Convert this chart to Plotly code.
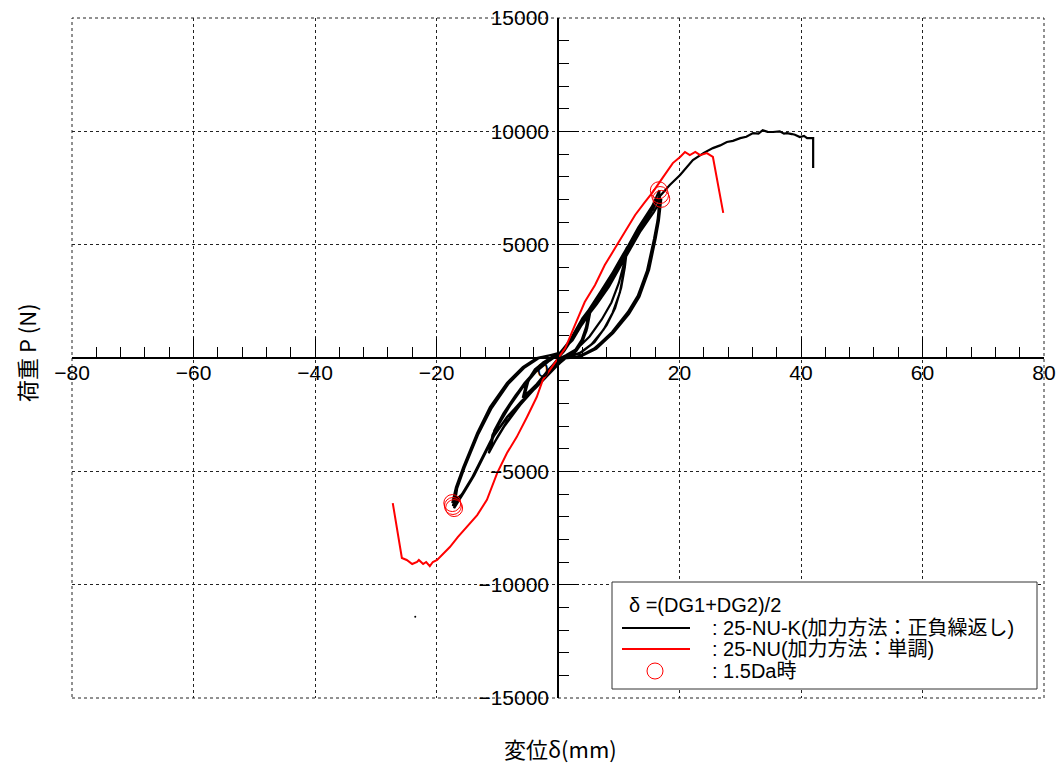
import plotly.graph_objects as go

# ---------------- data ----------------
# 25-NU-K cyclic test: small, mid and large amplitude cycles, then final push
small_a_x = [0, 1.0, 2.5, 4.0, 5.3, 4.8, 4.0, 3.0, 1.5, 0.0, -1.5, -3.5, -5.8, -5.2, -4.0, -2.5, -1.0, 0.3]
small_a_y = [0, 300, 900, 1500, 2000, 1300, 700, 300, 60, -60, -500, -1150, -1750, -1100, -600, -200, 50, 200]
small_b_x = [0.3, 2.0, 3.5, 5.2, 4.7, 3.8, 2.8, 1.3, -0.2, -1.8, -3.8, -5.7, -5.0, -3.8, -2.2, -0.8, 0.4]
small_b_y = [200, 750, 1300, 1950, 1200, 600, 250, 40, -120, -600, -1250, -1700, -1000, -500, -150, 60, 210]
small_c_x = [0.4, 1.8, 3.3, 5.0, 4.6, 3.9, 2.9, 1.6, 0.1, -1.6, -3.6, -5.5, -4.9, -3.9, -2.4, -0.9, 0.4]
small_c_y = [210, 700, 1250, 1900, 1350, 800, 380, 120, -80, -550, -1200, -1650, -1050, -560, -180, 40, 200]

mid_a_x = [0.4, 2.0, 4.0, 6.0, 8.0, 10.0, 11.4, 11.0, 10.4, 9.4, 8.0, 6.0, 4.0, 2.0, 0.4, -1.3, -3.5, -5.8,
           -8.4, -10.0, -11.3, -10.8, -9.5, -7.5, -5.5, -3.5, -1.5, 0.3]
mid_a_y = [210, 800, 1650, 2450, 3300, 4200, 4900, 4000, 3100, 2200, 1450, 700, 280, 60, -60, -550, -1250, -1900,
           -2800, -3500, -4150, -3400, -2700, -1850, -1100, -500, -80, 180]
mid_b_x = [0.3, 2.2, 4.2, 6.2, 8.2, 10.0, 11.2, 10.8, 10.2, 9.0, 7.5, 5.5, 3.5, 1.5, 0.0, -1.5, -3.8, -6.0,
           -8.6, -10.2, -11.1, -10.5, -9.0, -7.0, -5.0, -3.0, -1.2, 0.3]
mid_b_y = [180, 850, 1750, 2550, 3400, 4250, 4800, 3800, 2900, 2000, 1250, 600, 200, 20, -100, -600, -1350, -2000,
           -2900, -3600, -4050, -3200, -2450, -1650, -950, -400, -20, 200]
mid_c_x = [0.3, 2.4, 4.4, 6.4, 8.4, 10.2, 11.3, 10.9, 10.0, 8.8, 7.2, 5.2, 3.2, 1.3, -0.1, -1.7, -4.0, -6.3,
           -8.8, -10.4, -11.4, -10.9, -9.8, -7.9, -5.8, -3.6, -1.4, 0.3]
mid_c_y = [200, 900, 1850, 2650, 3500, 4300, 4850, 4200, 3300, 2450, 1700, 950, 420, 120, -60, -580, -1400, -2100,
           -3000, -3700, -4200, -3650, -2950, -2100, -1300, -600, -120, 190]

large_a_x = [0.3, 2.0, 4.0, 6.0, 8.0, 10.0, 11.4, 13.2, 15.5, 16.7, 16.5, 16.0, 14.8, 13.2, 11.5, 8.9, 6.1, 3.3,
             1.2, 0.3, -1.3, -3.5, -5.8, -8.4, -10.7, -12.3, -14.0, -15.6, -17.4, -16.8, -15.6, -13.3, -11.2,
             -8.4, -5.8, -3.5, -1.3, 0.3]
large_a_y = [220, 800, 1750, 2450, 3250, 4200, 4850, 5750, 6700, 7400, 6300, 5430, 3970, 2780, 2030, 1150, 440, 50,
             0, -220, -660, -1280, -1850, -2600, -3490, -4370, -5250, -5960, -6400, -5700, -4810, -3310, -2160,
             -1100, -400, 0, 130, 220]
large_b_x = [0.3, 2.2, 4.2, 6.2, 8.2, 10.2, 11.6, 13.4, 15.6, 16.8, 16.4, 15.8, 14.6, 13.0, 11.2, 8.6, 5.8, 3.0,
             1.0, 0.2, -1.5, -3.7, -6.0, -8.6, -10.9, -12.5, -14.2, -15.8, -17.3, -16.7, -15.5, -13.2, -11.0,
             -8.2, -5.6, -3.3, -1.1, 0.3]
large_b_y = [200, 820, 1720, 2420, 3200, 4150, 4800, 5650, 6550, 7190, 6100, 5250, 3800, 2650, 1900, 1050, 380, 30,
             -20, -240, -700, -1330, -1900, -2680, -3560, -4420, -5300, -6000, -6530, -5800, -4900, -3400, -2250,
             -1150, -430, -20, 120, 210]
large_c_x = [0.3, 2.4, 4.4, 6.4, 8.4, 10.4, 11.8, 13.6, 15.8, 17.0, 16.6, 16.1, 15.0, 13.4, 11.7, 9.1, 6.3, 3.5,
             1.3, 0.4, -1.2, -3.4, -5.6, -8.2, -10.5, -12.1, -13.8, -15.4, -17.1, -16.6, -15.4, -13.1, -10.9,
             -8.1, -5.5, -3.2, -1.0, 0.3]
large_c_y = [230, 780, 1680, 2380, 3150, 4100, 4750, 5600, 6450, 7020, 6050, 5300, 3900, 2700, 1950, 1100, 400, 40,
             -10, -210, -620, -1230, -1800, -2550, -3420, -4300, -5180, -5900, -6620, -5750, -4850, -3350, -2200,
             -1120, -420, -10, 140, 230]
final_x = [0.3, 2.0, 4.0, 6.0, 8.0, 10.0, 11.4, 13.2, 15.5, 16.8, 18.4, 20.1, 22.2, 24.0, 25.5, 26.7, 27.8, 28.8,
           30.0, 31.0, 32.1, 33.0, 33.7, 34.5, 35.4, 36.5, 37.2, 37.7, 38.5, 39.0, 39.8, 40.5, 41.0, 42.0, 42.0]
final_y = [220, 790, 1700, 2430, 3230, 4180, 4830, 5720, 6640, 7150, 7630, 8070, 8730, 9050, 9260, 9380, 9530, 9580,
           9700, 9760, 9920, 9900, 10050, 9980, 9970, 10000, 9900, 9920, 9880, 9850, 9750, 9800, 9700, 9700, 8380]
stray_x = [-23.5]
stray_y = [-11420]

# 25-NU monotonic test (negative branch then positive branch)
red_x = [-27.2, -25.7, -24.9, -24.0, -23.2, -22.9, -22.2, -21.7, -21.1, -20.6, -19.9, -19.1, -17.8, -16.5, -15.0,
         -13.3, -11.7, -10.0, -8.4, -6.8, -5.1, -3.5, -2.5, -1.3, 0.0, 1.2, 2.8, 4.4, 6.1, 7.7, 9.4, 11.0, 12.7,
         14.3, 15.6, 17.3, 18.9, 20.1, 20.9, 21.7, 22.6, 23.4, 24.5, 25.5, 27.2]
red_y = [-6400, -8820, -8910, -9090, -9000, -8910, -9090, -9000, -9180, -9000, -8910, -8690, -8340, -7900, -7450,
         -6930, -6260, -5070, -4190, -3490, -2600, -1720, -970, -530, 0, 440, 1460, 2470, 3220, 4100, 4850, 5560, 6310,
         6880, 7320, 7980, 8600, 8870, 9090, 8950, 9090, 8950, 9040, 8870, 6400]

# 1.5Da points
da_x = [16.6, 16.8, 17.0, -17.4, -17.3, -17.1]
da_y = [7400, 7190, 7020, -6400, -6530, -6620]

x_ticks = [-80, -60, -40, -20, 0, 20, 40, 60, 80]
x_labels = ["\u221280", "\u221260", "\u221240", "\u221220", "", "20", "40", "60", "80"]
y_ticks = [-15000, -10000, -5000, 0, 5000, 10000, 15000]
y_labels = ["\u221215000", "\u221210000", "\u22125000", "", "5000", "10000", "15000"]

# ---------------- figure ----------------
black_x = (small_a_x + small_b_x + small_c_x + mid_a_x + mid_b_x + mid_c_x
           + large_a_x + large_b_x + large_c_x + final_x)
black_y = (small_a_y + small_b_y + small_c_y + mid_a_y + mid_b_y + mid_c_y
           + large_a_y + large_b_y + large_c_y + final_y)

FONT = "Liberation Sans, Noto Sans CJK JP, sans-serif"
JFONT = "Noto Sans CJK JP, Liberation Sans, sans-serif"

fig = go.Figure()
fig.add_trace(go.Scatter(x=black_x, y=black_y, mode="lines",
                         line=dict(color="black", width=2.2), hoverinfo="skip"))
fig.add_trace(go.Scatter(x=stray_x, y=stray_y, mode="markers",
                         marker=dict(color="black", size=2), hoverinfo="skip"))
fig.add_trace(go.Scatter(x=red_x, y=red_y, mode="lines",
                         line=dict(color="#ff0000", width=2), hoverinfo="skip"))
fig.add_trace(go.Scatter(x=da_x, y=da_y, mode="markers",
                         marker=dict(symbol="circle-open", size=17, color="#ff0000",
                                     line=dict(width=1, color="#ff0000")), hoverinfo="skip"))

# target plot-area edges on screen (page body adds an 8 px offset)
L, R, T, B = 72, 1044, 18, 698
OFF = 8
W, H = 1064 - OFF, 763 - OFF


def px(xp):
    return (xp - L) / (R - L)


def py(yp):
    return (B - yp) / (B - T)


fig.update_layout(
    width=W, height=H, autosize=False,
    margin=dict(l=L - OFF, r=1064 - R, t=T - OFF, b=763 - B, autoexpand=False),
    paper_bgcolor="white", plot_bgcolor="white",
    showlegend=False,
    font=dict(family=FONT, color="black", size=21),
    xaxis=dict(range=[-80, 80], anchor="free", position=0.5, side="bottom", automargin=False,
               showline=True, linecolor="black", linewidth=1.5, zeroline=False,
               ticks="inside", ticklen=20, tickwidth=1, tickcolor="black",
               tickmode="array", tickvals=x_ticks, ticktext=x_labels,
               tickfont=dict(size=21, family=FONT, color="black"),
               showgrid=True, gridcolor="#222", gridwidth=1, griddash="dot",
               minor=dict(tickmode="linear", tick0=0, dtick=4, ticks="inside", ticklen=10,
                          tickcolor="black", tickwidth=1, showgrid=False),
               ticklabelstandoff=-4, ticklabeloverflow="allow"),
    yaxis=dict(range=[-15000, 15000], anchor="free", position=0.5, side="left", automargin=False,
               showline=True, linecolor="black", linewidth=1.5, zeroline=False,
               ticks="inside", ticklen=20, tickwidth=1, tickcolor="black",
               tickmode="array", tickvals=y_ticks, ticktext=y_labels,
               tickfont=dict(size=21, family=FONT, color="black"),
               showgrid=True, gridcolor="#222", gridwidth=1, griddash="dot",
               minor=dict(tickmode="linear", tick0=0, dtick=1000, ticks="inside", ticklen=10,
                          tickcolor="black", tickwidth=1, showgrid=False),
               ticklabelstandoff=4, ticklabeloverflow="allow"),
)

ann = []
# axis titles
ann.append(dict(text="変位δ(mm)", x=px(560), y=py(748), xref="paper", yref="paper",
                showarrow=False, font=dict(size=22, family=JFONT), xanchor="center", yanchor="middle"))
ann.append(dict(text="荷重 P (N)", x=px(26), y=py(353), xref="paper", yref="paper",
                showarrow=False, textangle=-90, font=dict(size=22, family=JFONT),
                xanchor="center", yanchor="middle"))
ann.append(dict(text="0", x=px(543), y=py(370), xref="paper", yref="paper",
                showarrow=False, font=dict(size=21, family=FONT), xanchor="center", yanchor="middle"))

# dotted frame + legend (drawn manually)
shapes = [
    dict(type="rect", xref="paper", yref="paper", x0=0, x1=1, y0=0, y1=1,
         line=dict(color="#222", width=1, dash="dot"), layer="below"),
    dict(type="rect", xref="paper", yref="paper", x0=px(612), x1=px(1037), y0=py(689), y1=py(582),
         line=dict(color="#333", width=1), fillcolor="white", layer="above"),
    dict(type="line", xref="paper", yref="paper", x0=px(622), x1=px(690), y0=py(628), y1=py(628),
         line=dict(color="black", width=2), layer="above"),
    dict(type="line", xref="paper", yref="paper", x0=px(622), x1=px(690), y0=py(649), y1=py(649),
         line=dict(color="#ff0000", width=2), layer="above"),
    dict(type="circle", xref="paper", yref="paper", x0=px(647), x1=px(663), y0=py(679), y1=py(663),
         line=dict(color="#ff0000", width=1), layer="above"),
]
leg_font = dict(size=20, family=FONT, color="black")
ann.append(dict(text="δ =(DG1+DG2)/2", x=px(627), y=py(605), xref="paper", yref="paper",
                showarrow=False, font=leg_font, xanchor="left", yanchor="middle"))
ann.append(dict(text=": 25-NU-K(加力方法：正負繰返し)", x=px(710), y=py(628), xref="paper", yref="paper",
                showarrow=False, font=leg_font, xanchor="left", yanchor="middle"))
ann.append(dict(text=": 25-NU(加力方法：単調)", x=px(710), y=py(649), xref="paper", yref="paper",
                showarrow=False, font=leg_font, xanchor="left", yanchor="middle"))
ann.append(dict(text=": 1.5Da時", x=px(710), y=py(671), xref="paper", yref="paper",
                showarrow=False, font=leg_font, xanchor="left", yanchor="middle"))

fig.update_layout(annotations=ann, shapes=shapes)
fig.write_html("out.html")
